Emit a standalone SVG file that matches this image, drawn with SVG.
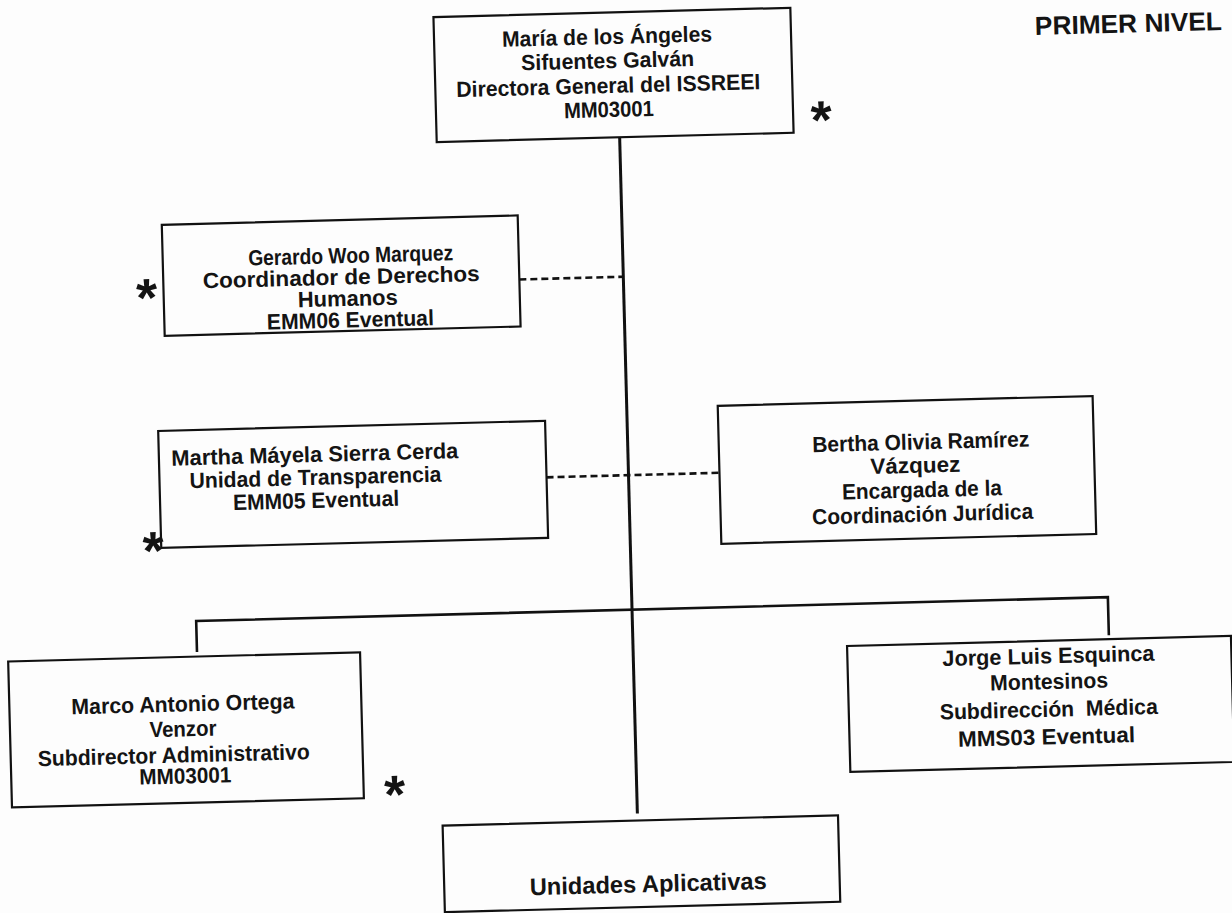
<svg xmlns="http://www.w3.org/2000/svg" width="1232" height="913" viewBox="0 0 1232 913">
<style>
.box{fill:none;stroke:#111;stroke-width:2.2}
.ln{fill:none;stroke:#111;stroke-width:2.6}
.dash{fill:none;stroke:#111;stroke-width:2.6;stroke-dasharray:7 4}
.t{font-family:"Liberation Sans",Arial,sans-serif;font-weight:bold;font-size:22px;fill:#141414;text-anchor:middle;white-space:pre}
.star{font-family:"Liberation Sans",Arial,sans-serif;font-weight:bold;font-size:54px;fill:#141414;text-anchor:middle}
</style>
<rect width="1232" height="913" fill="#fdfdfd"/>
<g transform="rotate(-1.5 616 456)">
<g id="connectors">
<line class="ln" x1="628" y1="137.5" x2="628" y2="814" style="stroke-width:3"/>
<polyline class="ln" points="192,641 192,610 1104,610 1104,648"/>
<line class="dash" x1="524" y1="277" x2="628" y2="277"/>
<line class="dash" x1="546" y1="475.5" x2="719" y2="475.5"/>
</g>
<g id="director">
<rect class="box" x="445" y="12.5" width="357" height="125"/>
<text class="t" x="618" y="44" textLength="210" lengthAdjust="spacingAndGlyphs">María de los Ángeles</text>
<text class="t" x="618" y="68" textLength="173" lengthAdjust="spacingAndGlyphs">Sifuentes Galván</text>
<text class="t" x="618" y="93" textLength="304" lengthAdjust="spacingAndGlyphs">Directora General del ISSREEI</text>
<text class="t" x="618" y="117" textLength="90" lengthAdjust="spacingAndGlyphs">MM03001</text>
<text class="star" x="830" y="144">*</text>
</g>
<g id="gerardo">
<rect class="box" x="168" y="213" width="356" height="111"/>
<text class="t" x="356" y="256" textLength="205" lengthAdjust="spacingAndGlyphs">Gerardo Woo Marquez</text>
<text class="t" x="346" y="277.5" textLength="277" lengthAdjust="spacingAndGlyphs">Coordinador de Derechos</text>
<text class="t" x="352" y="299" textLength="100" lengthAdjust="spacingAndGlyphs">Humanos</text>
<text class="t" x="354" y="320.5" textLength="167" lengthAdjust="spacingAndGlyphs">EMM06 Eventual</text>
<text class="star" x="151" y="304">*</text>
</g>
<g id="martha">
<rect class="box" x="159" y="419" width="387" height="117"/>
<text class="t" x="315" y="454" textLength="287" lengthAdjust="spacingAndGlyphs">Martha Máyela Sierra Cerda</text>
<text class="t" x="315" y="477" textLength="252" lengthAdjust="spacingAndGlyphs">Unidad de Transparencia</text>
<text class="t" x="315" y="500" textLength="166" lengthAdjust="spacingAndGlyphs">EMM05 Eventual</text>
<text class="star" x="151" y="557">*</text>
</g>
<g id="bertha">
<rect class="box" x="719" y="408.5" width="375" height="138"/>
<text class="t" x="921" y="457.3" textLength="217" lengthAdjust="spacingAndGlyphs">Bertha Olivia Ramírez</text>
<text class="t" x="915" y="480.7" textLength="90" lengthAdjust="spacingAndGlyphs">Vázquez</text>
<text class="t" x="921" y="505.3" textLength="160" lengthAdjust="spacingAndGlyphs">Encargada de la</text>
<text class="t" x="921" y="529.7" textLength="221" lengthAdjust="spacingAndGlyphs">Coordinación Jurídica</text>
</g>
<g id="marco">
<rect class="box" x="3" y="645.5" width="352" height="146"/>
<text class="t" x="176.5" y="700" textLength="223" lengthAdjust="spacingAndGlyphs">Marco Antonio Ortega</text>
<text class="t" x="176" y="725" textLength="67" lengthAdjust="spacingAndGlyphs">Venzor</text>
<text class="t" x="166" y="751" textLength="272" lengthAdjust="spacingAndGlyphs">Subdirector Administrativo</text>
<text class="t" x="177" y="772" textLength="92" lengthAdjust="spacingAndGlyphs">MM03001</text>
<text class="star" x="386" y="807">*</text>
</g>
<g id="jorge">
<rect class="box" x="842" y="652" width="384" height="126"/>
<text class="t" x="1043" y="674.6" textLength="212" lengthAdjust="spacingAndGlyphs">Jorge Luis Esquinca</text>
<text class="t" x="1043" y="700.3" textLength="118" lengthAdjust="spacingAndGlyphs">Montesinos</text>
<text class="t" x="1042" y="728" textLength="218" lengthAdjust="spacingAndGlyphs">Subdirección  Médica</text>
<text class="t" x="1039" y="755.6" textLength="177" lengthAdjust="spacingAndGlyphs">MMS03 Eventual</text>
</g>
<g id="unidades">
<rect class="box" x="433" y="821" width="395.5" height="86.5"/>
<text class="t" x="637" y="892.8" style="font-size:24px" textLength="237" lengthAdjust="spacingAndGlyphs">Unidades Aplicativas</text>
</g>
<g id="nivel">
<text class="t" x="1046" y="46" style="font-size:26px;text-anchor:start" textLength="187" lengthAdjust="spacingAndGlyphs">PRIMER NIVEL</text>
</g>
</g>
</svg>
